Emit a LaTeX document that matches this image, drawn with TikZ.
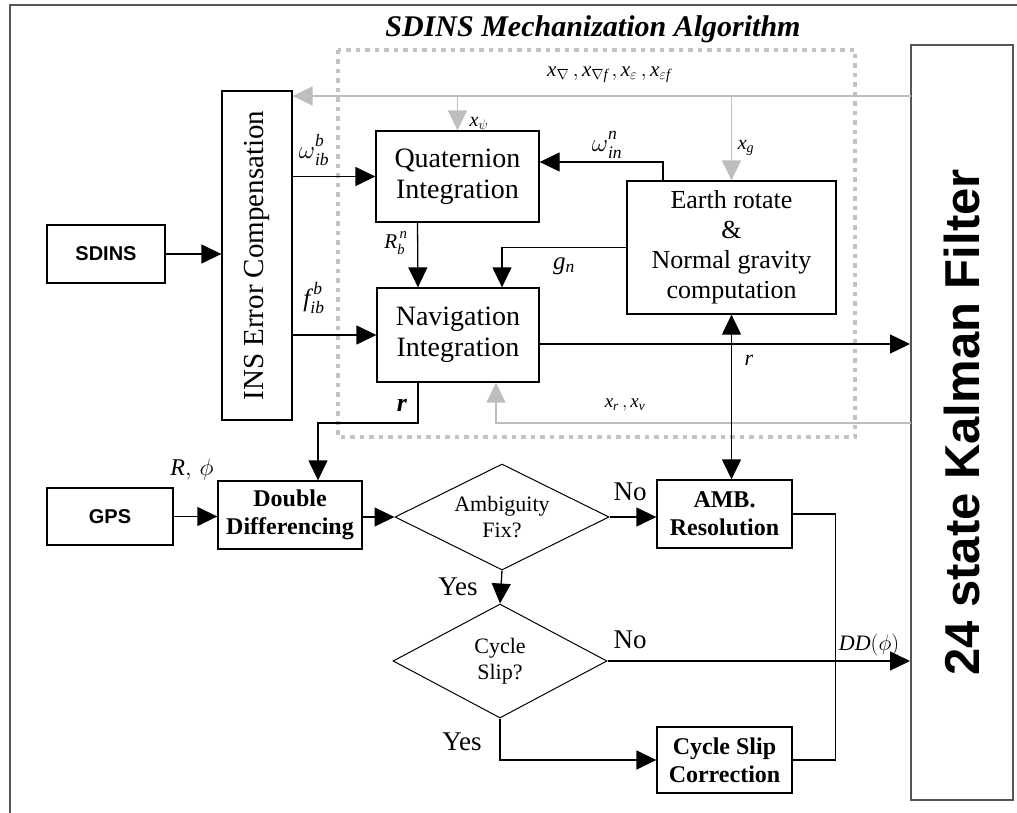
\RequirePackage{fix-cm}
\documentclass[tikz,border=0pt]{standalone}
\usepackage{graphicx}
\usepackage{fontspec}
\setmainfont{Liberation Serif}
\setsansfont{Liberation Sans}
\usetikzlibrary{arrows.meta,shapes.geometric,calc}
\definecolor{lgray}{RGB}{190,190,190}
\definecolor{dgray}{RGB}{195,195,195}
\definecolor{frame}{RGB}{85,85,85}
\newcommand\szttl{\fontsize{30}{34}\selectfont\bfseries\itshape}
\newcommand\szbox{\fontsize{28}{31}\selectfont}
\newcommand\szearth{\fontsize{26}{30}\selectfont}
\newcommand\szbold{\fontsize{24}{28}\selectfont\bfseries}
\newcommand\szdia{\fontsize{22}{26}\selectfont}
\newcommand\szyn{\fontsize{27}{30}\selectfont}
\newcommand\szlbl{\fontsize{25}{27}\selectfont}
\newcommand\szsml{\fontsize{20}{22}\selectfont}
\newcommand\mi[1]{\mathit{#1}}
\newcommand\tallbase[1]{{#1\vphantom{\Big|}}}
\begin{document}
\begin{tikzpicture}[x=1pt,y=-1pt,
  box/.style={draw, line width=1.3pt, align=center, inner sep=0pt},
  dia/.style={draw, diamond, aspect=2, line width=1pt, align=center, inner sep=0pt, font=\szdia},
  arr/.style={line width=1.3pt, -{Triangle[length=20pt,width=19pt]}},
  darr/.style={line width=1.3pt, {Triangle[length=20pt,width=19pt]}-{Triangle[length=20pt,width=19pt]}},
  ln/.style={line width=1.3pt},
  garr/.style={line width=1.5pt, draw=lgray, -{Triangle[length=20pt,width=19pt,fill=lgray]}},
  dotbox/.style={draw=dgray, line width=4.5pt, dash pattern=on 4.5pt off 5pt},
  lbl/.style={inner sep=1pt, font=\szlbl},
  yn/.style={inner sep=1pt, font=\szyn}
]
\useasboundingbox (0,0) rectangle (1017,813);
\draw[line width=2.5pt, draw=frame] (10,813) -- (10,5) -- (1017,5);

\node[font=\szttl] (title) at (593,29) {SDINS Mechanization Algorithm};
\draw[dotbox] (338,50) rectangle (855,437);

% boxes
\node[box, minimum width=70pt, minimum height=329pt] (ins) at (257,255.5)
  {\rotatebox{90}{\fontsize{29}{32}\selectfont INS Error Compensation}};
\node[box, minimum width=118pt, minimum height=58pt, font=\fontsize{20}{22}\selectfont\sffamily\bfseries] (sdins) at (106,254) {SDINS};
\node[box, minimum width=126pt, minimum height=57pt, font=\fontsize{20}{22}\selectfont\sffamily\bfseries] (gps) at (110,516.5) {GPS};
\node[box, draw=frame, line width=2pt, minimum width=102pt, minimum height=755pt] (kf) at (962,422.5)
  {\rotatebox{90}{\fontsize{49}{52}\selectfont\sffamily\bfseries 24 state Kalman Filter}};
\node[box, minimum width=163pt, minimum height=91pt, font=\szbox] (quat) at (457.5,176.5) {Quaternion\\Integration};
\node[box, minimum width=162pt, minimum height=94pt, font=\szbox] (nav) at (458,335) {Navigation\\Integration};
\node[box, minimum width=209pt, minimum height=133pt, font=\szearth] (earth) at (731.5,247.5) {Earth rotate\\\&\\Normal gravity\\computation};
\node[box, minimum width=144pt, minimum height=68pt, font=\szbold] (dd) at (290,515) {Double\\Differencing};
\node[box, minimum width=135pt, minimum height=68pt, font=\szbold] (amb) at (724.5,514) {AMB.\\Resolution};
\node[box, minimum width=135pt, minimum height=66pt, font=\szbold] (csc) at (724.5,760) {Cycle Slip\\Correction};
\node[dia, minimum width=214pt, minimum height=106pt] (af) at (502,517) {Ambiguity\\Fix?};
\node[dia, minimum width=214pt, minimum height=114pt] (cs) at (500,661) {Cycle\\Slip?};

% gray feedback lines
\coordinate (g1) at (911,96);
\coordinate (g2) at (911,423);
\draw[garr] (g1) -- (g1 -| ins.east);
\draw[garr] (g1 -| quat.north) -- (quat.north);
\draw[garr] (g1 -| earth.north) -- (earth.north);
\draw[garr] (g2) -| ([xshift=38pt]nav.south);

% black connectors
\draw[arr] (sdins.east) -- (ins.west |- sdins.east);
\draw[arr] (ins.east |- quat.west) -- (quat.west);
\draw[arr] (ins.east |- nav.west) -- (nav.west);
\draw[arr] ([xshift=-68.5pt]earth.north) |- ([yshift=14.5pt]quat.east);
\draw[arr] ([xshift=-40pt]quat.south) -- ([xshift=-40pt]nav.north);
\draw[arr] (earth.west) -| ([xshift=44pt]nav.north);
\draw[arr] ([yshift=-9pt]nav.east) -- ([yshift=-9pt]nav.east -| kf.west);
\draw[darr] (earth.south) -- (earth.south |- amb.north);
\coordinate (rc) at (318,423);
\draw[arr] ([xshift=-40pt]nav.south) |- (rc) -- (rc |- dd.north);
\draw[arr] (gps.east) -- (gps.east -| dd.west);
\draw[arr] (dd.east |- af.west) -- (af.west);
\draw[arr] (af.east) -- (af.east -| amb.west);
\draw[arr] (af.south) -- (cs.north);
\draw[arr] (cs.east) -- (cs.east -| kf.west);
\draw[arr] (cs.south) |- (csc.west);
\draw[ln] (amb.east) -- ++(43,0) |- (csc.east);

% labels
\node[lbl, font=\fontsize{21}{23}\selectfont] (lx) at (609,75) {$\mi{x}_{\nabla}\,, \mi{x}_{\nabla \mi{f}}\,, \mi{x}_{\varepsilon}\,, \mi{x}_{\varepsilon \mi{f}}$};
\node[lbl, font=\szsml] (lpsi) at (479,125) {$\mi{x}_{\psi}$};
\node[lbl, font=\szsml] (lg) at (746,148) {$\mi{x}_{\mi{g}}$};
\node[lbl] (lwib) at (314,150) {$\tallbase{\omega}_{\mi{ib}}^{\mi{b}}$};
\node[lbl] (lfib) at (314,298) {$\tallbase{\mi{f}}_{\mi{ib}}^{\,\mi{b}}$};
\node[lbl] (lwin) at (607,145) {$\tallbase{\omega}_{\mi{in}}^{\mi{n}}$};
\node[lbl, font=\fontsize{21}{23}\selectfont] (lrbn) at (396,243) {$\tallbase{\mi{R}}_{\mi{b}}^{\,\mi{n}}$};
\node[lbl] (lgn) at (564,266) {$\mi{g}_{\mi{n}}$};
\node[lbl, font=\fontsize{26}{28}\selectfont] (lr1) at (402,405) {\textbf{\textit{r}}};
\node[lbl, font=\fontsize{22}{24}\selectfont] (lr2) at (749,360) {\textit{r}};
\node[lbl, font=\fontsize{19}{21}\selectfont] (lxrv) at (625,405) {$\mi{x}_{\mi{r}}\,, \mi{x}_{\mi{v}}$};
\node[lbl, font=\fontsize{24}{26}\selectfont] (lrphi) at (192,469) {$\mi{R},\,\phi$};
\node[lbl, font=\fontsize{22}{24}\selectfont] (ldd) at (869,645) {$\mi{DD}(\phi)$};
\node[yn] (no1) at (630,492) {No};
\node[yn] (yes1) at (458,587) {Yes};
\node[yn] (no2) at (630,640) {No};
\node[yn] (yes2) at (462,742) {Yes};
\end{tikzpicture}
\end{document}
